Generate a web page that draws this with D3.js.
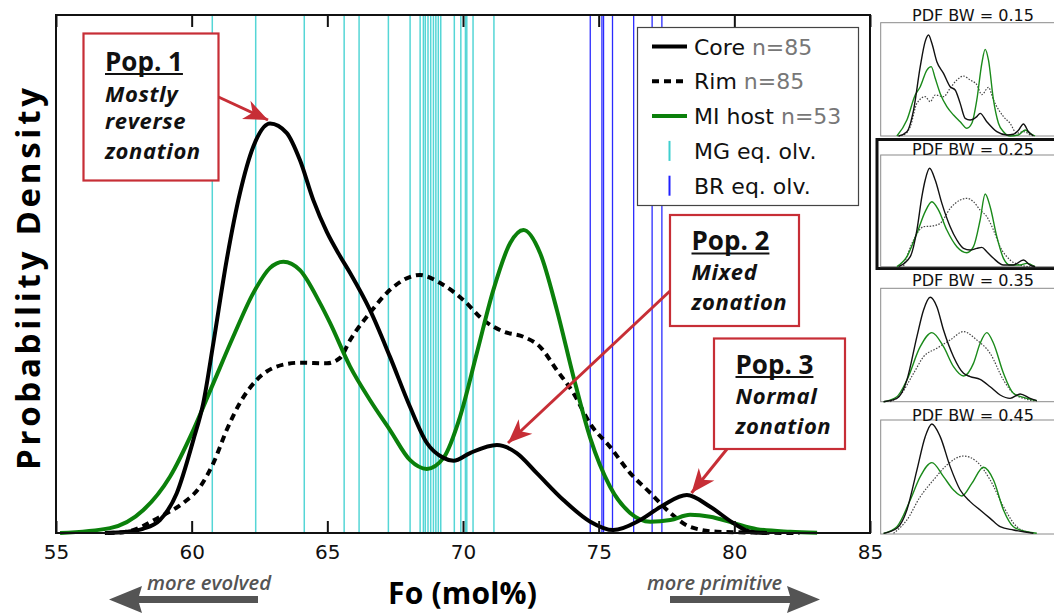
<!DOCTYPE html>
<html lang="en">
<head>
<meta charset="utf-8" />
<title>Fo probability density</title>
<style>
  * { margin: 0; padding: 0; }
  body { background: white; width: 1054px; height: 613px; overflow: hidden; }
  svg { display: block; }
  .tick text { font-family: "DejaVu Sans", sans-serif; font-size: 20px; fill: #111; }
  .tick line { stroke: #111; stroke-width: 2px; }
</style>
</head>
<body>
<script src="https://d3js.org/d3.v7.min.js"></script>
<svg id="chart" width="1054" height="613"></svg>
<script>

// ---- data ----
var foTicks = [55, 60, 65, 70, 75, 80, 85];

// equilibrium olivine compositions (Fo, mol%)
var mgEqOlv = [60.76, 62.36, 64.15, 65.62, 66.17, 67.25, 68.05, 68.42, 68.54, 68.61, 68.71,
               68.81, 68.91, 69.00, 69.09, 69.18, 69.68, 69.92, 70.09, 70.14, 70.37, 71.14];
var brEqOlv = [74.69, 75.12, 75.18, 75.51, 76.29, 76.97, 77.33];

// main KDE curves (BW = 0.25): [Fo, density]
var coreKde = [[56.8,0],[57.6,0.0004],[58.2,0.0013],[58.83,0.0040],[59.45,0.0123],[60.06,0.0287],[60.43,0.0402],
  [60.80,0.0587],[61.29,0.0843],[61.78,0.1050],[62.27,0.1193],[62.89,0.1265],[63.50,0.1236],[63.99,0.1152],
  [64.48,0.1029],[64.98,0.0930],[65.47,0.0855],[65.84,0.0803],[66.57,0.0689],[67.31,0.0544],[68.05,0.0389],
  [68.67,0.0278],[69.28,0.0232],[69.65,0.0223],[70.26,0.0247],[71.25,0.0272],[71.98,0.0247],[72.72,0.0185],
  [73.70,0.0102],[74.69,0.0035],[75.54,0.0009],[76.53,0.0040],[77.38,0.0086],[78.25,0.0117],[79.11,0.0081],
  [79.96,0.0031],[80.59,0.0004],[81.2,0]];
var rimKde = [[56.9,0],[57.60,0.0004],[58.83,0.0050],[59.69,0.0093],[60.31,0.0143],[60.80,0.0216],[61.29,0.0318],
  [61.78,0.0402],[62.40,0.0473],[63.13,0.0514],[63.99,0.0526],[64.98,0.0524],[65.47,0.0541],[65.84,0.0596],
  [66.57,0.0680],[67.31,0.0751],[68.42,0.0797],[69.16,0.0772],[70.01,0.0720],[70.75,0.0658],[71.49,0.0622],
  [72.23,0.0606],[72.84,0.0575],[73.46,0.0503],[74.07,0.0432],[74.69,0.0337],[75.42,0.0266],[76.16,0.0185],
  [76.90,0.0124],[77.64,0.0062],[78.37,0.0019],[79.36,0.0004],[81.0,0.0001],[82.4,0]];
var miKde = [[55.15,0],[56.99,0.0015],[58.22,0.0071],[59.20,0.0174],[60.06,0.0318],[60.80,0.0463],[61.53,0.0606],
  [62.27,0.0741],[62.89,0.0819],[63.38,0.0838],[63.99,0.0812],[64.73,0.0710],[65.10,0.0649],[65.84,0.0514],
  [66.57,0.0411],[67.31,0.0318],[68.05,0.0225],[68.67,0.0198],[69.28,0.0232],[69.89,0.0359],[70.51,0.0556],
  [71.12,0.0751],[71.74,0.0896],[72.23,0.0936],[72.84,0.0865],[73.46,0.0689],[74.07,0.0483],[74.69,0.0293],
  [75.42,0.0143],[76.16,0.0062],[76.90,0.0035],[77.64,0.0040],[78.37,0.0056],[79.11,0.0050],[79.96,0.0031],
  [80.83,0.0012],[82.06,0.0004],[83.05,0.0001]];

// side panels, relative density (0-1 of panel height)
var bwLabels = ["PDF BW = 0.15", "PDF BW = 0.25", "PDF BW = 0.35", "PDF BW = 0.45"];
var core15 = [[57.95,0],[59.32,0.038],[60.42,0.229],[61.52,0.612],[62.34,0.835],[62.89,0.891],[63.44,0.818],[64.26,0.656],
  [65.36,0.553],[66.46,0.435],[67.28,0.406],[68.11,0.288],[68.93,0.156],[69.75,0.141],[70.85,0.171],[71.40,0.200],
  [72.50,0.126],[74.15,0.038],[75.80,0.009],[76.89,0.015],[77.72,0.050],[78.54,0.106],[79.37,0.038],[80.19,0]];
var mi15 = [[57.67,0],[59.32,0.141],[60.69,0.362],[61.52,0.435],[62.62,0.582],[63.33,0.612],[63.99,0.509],[64.81,0.376],
  [65.91,0.259],[67.01,0.185],[68.11,0.126],[69.21,0.068],[70.03,0.112],[70.85,0.318],[71.68,0.641],[72.23,0.765],
  [72.77,0.671],[73.60,0.318],[74.42,0.112],[75.25,0.038],[76.34,0],[77.72,0.009],[78.82,0.053],[79.64,0.024],[80.46,0]];
var rim15 = [[57.9,0],[58.77,0.009],[59.87,0.082],[60.97,0.288],[62.34,0.347],[63.16,0.303],[63.99,0.362],[65.36,0.347],
  [66.46,0.421],[67.56,0.494],[68.66,0.529],[69.75,0.494],[70.85,0.453],[71.68,0.365],[72.77,0.429],[73.60,0.318],
  [75.25,0.171],[76.34,0.112],[77.44,0.024],[78.54,0.038],[79.64,0.009]];
var core25 = [[57.95,0],[59.87,0.090],[60.97,0.328],[61.79,0.627],[62.34,0.776],[63.05,0.881],[63.99,0.776],[65.09,0.567],
  [66.46,0.358],[67.56,0.239],[68.66,0.164],[69.75,0.149],[70.85,0.164],[71.68,0.173],[72.50,0.134],[73.60,0.075],
  [75.25,0.015],[76.89,0.015],[78.54,0.060],[79.64,0.015],[80.46,0]];
var mi25 = [[57.67,0],[59.32,0.090],[60.97,0.299],[62.34,0.493],[63.44,0.582],[64.54,0.507],[65.91,0.328],[67.56,0.179],
  [69.21,0.125],[70.30,0.179],[71.40,0.418],[72.23,0.651],[73.05,0.537],[74.15,0.269],[75.25,0.075],[76.34,0.015],
  [77.99,0.015],[79.09,0.030],[80.46,0]];
var rim25 = [[58.77,0.006],[60.42,0.239],[62.07,0.358],[63.44,0.364],[64.81,0.388],[66.46,0.522],[68.11,0.597],
  [69.21,0.612],[70.30,0.582],[71.40,0.507],[72.50,0.448],[73.60,0.328],[74.70,0.179],[76.34,0.060],[77.99,0.015],[79.64,0]];
var core35 = [[55.48,0],[57.67,0.029],[59.32,0.191],[60.97,0.574],[62.07,0.809],[63.16,0.921],[64.26,0.838],[65.36,0.632],
  [67.01,0.397],[68.66,0.250],[69.75,0.221],[71.40,0.197],[73.05,0.132],[74.70,0.059],[76.34,0.029],[77.99,0.068],
  [79.64,0.029],[80.74,0.009]];
var mi35 = [[55.48,0],[57.67,0.044],[59.32,0.191],[61.52,0.485],[63.44,0.609],[65.36,0.485],[67.01,0.309],[68.66,0.226],
  [70.30,0.338],[71.40,0.515],[72.50,0.609],[73.60,0.515],[75.25,0.250],[76.89,0.074],[78.54,0.038],[80.74,0.009]];
var rim35 = [[56.57,0],[58.22,0.059],[60.42,0.250],[62.07,0.397],[64.26,0.471],[66.46,0.544],[68.66,0.618],[70.85,0.544],
  [73.05,0.426],[75.25,0.191],[76.89,0.074],[79.09,0.021],[80.74,0.006]];
var core45 = [[55.48,0.006],[57.67,0.050],[59.32,0.211],[60.97,0.561],[62.34,0.854],[63.44,0.965],[64.81,0.854],
  [66.46,0.591],[68.11,0.386],[69.75,0.284],[71.40,0.211],[73.05,0.137],[74.70,0.064],[76.89,0.035],[78.54,0.020],[80.19,0.006]];
var mi45 = [[55.48,0.006],[57.67,0.064],[59.87,0.298],[61.52,0.503],[63.44,0.626],[65.36,0.503],[67.01,0.386],[68.38,0.333],
  [70.03,0.444],[71.95,0.585],[73.60,0.474],[75.25,0.211],[76.89,0.064],[79.09,0.020],[80.74,0.006]];
var rim45 = [[57.12,0.006],[59.32,0.123],[61.52,0.327],[63.71,0.474],[65.91,0.605],[68.66,0.684],[70.85,0.635],
  [73.05,0.474],[75.25,0.240],[77.44,0.064],[79.64,0.012]];

// ---- drawing ----
var svg = d3.select("#chart");
var red = "#c72e36", green = "#0b800b";

var x = d3.scaleLinear().domain([55, 85]).range([56, 870]);
var y = d3.scaleLinear().domain([0, 0.16]).range([533, 15]);

var line = d3.line()
    .x(function(d) { return x(d[0]); })
    .y(function(d) { return y(d[1]); })
    .curve(d3.curveMonotoneX);

// eq. olivine lines
svg.append("g").selectAll("line")
    .data(mgEqOlv)
  .enter().append("line")
    .attr("x1", function(d) { return x(d); }).attr("x2", function(d) { return x(d); })
    .attr("y1", 15).attr("y2", 533)
    .attr("stroke", "#55d6d6").attr("stroke-width", 1.5);
svg.append("g").selectAll("line")
    .data(brEqOlv)
  .enter().append("line")
    .attr("x1", function(d) { return x(d); }).attr("x2", function(d) { return x(d); })
    .attr("y1", 15).attr("y2", 533)
    .attr("stroke", "#2b2bff").attr("stroke-width", 1.3);

// curves
svg.append("path").datum(rimKde).attr("d", line)
    .attr("fill", "none").attr("stroke", "#000").attr("stroke-width", 4).attr("stroke-dasharray", "7,5");
svg.append("path").datum(miKde).attr("d", line)
    .attr("fill", "none").attr("stroke", green).attr("stroke-width", 4);
svg.append("path").datum(coreKde).attr("d", line)
    .attr("fill", "none").attr("stroke", "#000").attr("stroke-width", 4);

// axes, ticks inside
svg.append("g")
    .attr("transform", "translate(0,533)")
    .call(d3.axisBottom(x).tickValues(foTicks).tickSize(-12).tickPadding(12))
    .call(function(g) { g.select(".domain").remove(); });
svg.append("g")
    .attr("transform", "translate(0,15)")
    .call(d3.axisTop(x).tickValues(foTicks).tickSize(-12).tickFormat(""))
    .call(function(g) { g.select(".domain").remove(); });
svg.append("rect")
    .attr("x", 56).attr("y", 15).attr("width", 814).attr("height", 518)
    .attr("fill", "none").attr("stroke", "#111").attr("stroke-width", 2);

// legend
var leg = svg.append("g");
leg.append("rect")
    .attr("x", 637.5).attr("y", 27.5).attr("width", 221).attr("height", 178)
    .attr("fill", "white").attr("stroke", "#444").attr("stroke-width", 1.2);
var legItems = [
  {label: "Core", n: "n=85", kind: "solid", color: "#000"},
  {label: "Rim", n: "n=85", kind: "dash", color: "#000"},
  {label: "MI host", n: "n=53", kind: "solid", color: green},
  {label: "MG eq. olv.", n: "", kind: "tick", color: "#3fcfcf"},
  {label: "BR eq. olv.", n: "", kind: "tick", color: "#2020ff"}
];
legItems.forEach(function(d, i) {
  var cy = 46.5 + i * 34.8;
  if (d.kind === "tick") {
    leg.append("line").attr("x1", 669.5).attr("x2", 669.5).attr("y1", cy - 10).attr("y2", cy + 10)
      .attr("stroke", d.color).attr("stroke-width", 2);
  } else {
    leg.append("line").attr("x1", 652).attr("x2", 687).attr("y1", cy).attr("y2", cy)
      .attr("stroke", d.color).attr("stroke-width", 4)
      .attr("stroke-dasharray", d.kind === "dash" ? "7,5" : null);
  }
  var t = leg.append("text").attr("x", 694).attr("y", cy + 8)
    .style("font-family", "DejaVu Sans").style("font-size", "22px").attr("fill", "#111")
    .text(d.label + " ");
  if (d.n) t.append("tspan").attr("fill", "#777").text(d.n);
});

// axis titles
svg.append("text")
    .attr("x", 462.5).attr("y", 604)
    .attr("text-anchor", "middle")
    .attr("textLength", 149).attr("lengthAdjust", "spacing")
    .style("font-family", "Open Sans").style("font-weight", "bold").style("font-size", "30px")
    .text("Fo (mol%)");
svg.append("text")
    .attr("transform", "translate(28,279) rotate(-90)")
    .attr("text-anchor", "middle").attr("dy", "0.35em")
    .attr("textLength", 382).attr("lengthAdjust", "spacing")
    .style("font-family", "Open Sans").style("font-weight", "bold").style("font-size", "33px")
    .text("Probability Density");

// evolved / primitive arrows
var grey = "#545454";
svg.append("path")
    .attr("d", "M109,599.5 L142,586 L139,596 L258,596 L258,603 L139,603 L142,613 Z")
    .attr("fill", grey);
svg.append("path")
    .attr("d", "M820,599.5 L787,586 L790,596 L670,596 L670,603 L790,603 L787,613 Z")
    .attr("fill", grey);
svg.append("text").attr("x", 147).attr("y", 590)
    .attr("textLength", 124).attr("lengthAdjust", "spacingAndGlyphs")
    .style("font-family", "Open Sans").style("font-style", "italic").style("font-weight", 600)
    .style("font-size", "20px").attr("fill", grey).text("more evolved");
svg.append("text").attr("x", 647).attr("y", 590)
    .attr("textLength", 135).attr("lengthAdjust", "spacingAndGlyphs")
    .style("font-family", "Open Sans").style("font-style", "italic").style("font-weight", 600)
    .style("font-size", "20px").attr("fill", grey).text("more primitive");

// annotations
var defs = svg.append("defs");
defs.append("marker")
    .attr("id", "head").attr("markerUnits", "userSpaceOnUse")
    .attr("viewBox", "-26 -11 28 22").attr("refX", 0).attr("refY", 0)
    .attr("markerWidth", 28).attr("markerHeight", 22).attr("orient", "auto")
  .append("path").attr("d", "M0,0 L-24,-10 L-17,0 L-24,10 Z").attr("fill", red);

var notes = [
  {x: 83.5, y: 33.5, w: 135, h: 147, title: "Pop. 1", lines: ["Mostly", "reverse", "zonation"],
   ty: 70.5, ly: [101.5, 129, 159], arrow: [218.5, 97, 268, 120]},
  {x: 670, y: 215, w: 129, h: 111, title: "Pop. 2", lines: ["Mixed", "zonation"],
   ty: 250, ly: [279.5, 309.5], arrow: [670, 291, 508, 443]},
  {x: 714, y: 338.5, w: 131, h: 110.5, title: "Pop. 3", lines: ["Normal", "zonation"],
   ty: 373.5, ly: [403.5, 433.5], arrow: [727, 449, 691.5, 493]}
];
notes.forEach(function(d) {
  svg.append("line")
    .attr("x1", d.arrow[0]).attr("y1", d.arrow[1]).attr("x2", d.arrow[2]).attr("y2", d.arrow[3])
    .attr("stroke", red).attr("stroke-width", 3).attr("marker-end", "url(#head)");
  svg.append("rect")
    .attr("x", d.x).attr("y", d.y).attr("width", d.w).attr("height", d.h)
    .attr("fill", "white").attr("stroke", red).attr("stroke-width", 2.2);
  var tx = d.x + 21.5;
  var title = svg.append("text").attr("x", tx).attr("y", d.ty)
    .style("font-family", "Open Sans").style("font-weight", "bold").style("font-size", "26px")
    .attr("fill", "#111").text(d.title);
  var len = title.node().getComputedTextLength();
  svg.append("line").attr("x1", tx).attr("x2", tx + len).attr("y1", d.ty + 3.5).attr("y2", d.ty + 3.5)
    .attr("stroke", "#111").attr("stroke-width", 2);
  d.lines.forEach(function(s, i) {
    svg.append("text").attr("x", tx).attr("y", d.ly[i])
      .style("font-family", "Open Sans").style("font-weight", "bold").style("font-style", "italic")
      .style("font-size", "22px").style("letter-spacing", "0.6px").attr("fill", "#111").text(s);
  });
});

// side panels with other bandwidths
var panels = [
  {top: 22.7, bottom: 136, titleY: 21, series: [rim15, mi15, core15]},
  {top: 155, bottom: 266.7, titleY: 154.5, series: [rim25, mi25, core25]},
  {top: 288.3, bottom: 401.7, titleY: 286, series: [rim35, mi35, core35]},
  {top: 420, bottom: 534, titleY: 420.5, series: [rim45, mi45, core45]}
];
var xs = d3.scaleLinear().domain([55, 85]).range([880.7, 1062.6]);

// highlighted panel frame
svg.append("rect").attr("x", 877).attr("y", 139.5).attr("width", 200).attr("height", 129)
  .attr("fill", "white").attr("stroke", "#111").attr("stroke-width", 3);

panels.forEach(function(p, i) {
  var ys = d3.scaleLinear().domain([0, 1]).range([p.bottom, p.top]);
  var sl = d3.line()
    .x(function(d) { return xs(d[0]); })
    .y(function(d) { return ys(d[1]); })
    .curve(d3.curveMonotoneX);
  var g = svg.append("g");
  g.append("rect").attr("x", 880.7).attr("y", p.top).attr("width", 200).attr("height", p.bottom - p.top)
    .attr("fill", "white").attr("stroke", "#8a8a8a").attr("stroke-width", 1);
  g.append("path").datum(p.series[0]).attr("d", sl)
    .attr("fill", "none").attr("stroke", "#444").attr("stroke-width", 1.2).attr("stroke-dasharray", "1.5,1.5");
  g.append("path").datum(p.series[1]).attr("d", sl)
    .attr("fill", "none").attr("stroke", "#1a8a1a").attr("stroke-width", 1.4);
  g.append("path").datum(p.series[2]).attr("d", sl)
    .attr("fill", "none").attr("stroke", "#111").attr("stroke-width", 1.4);
  g.append("text").attr("x", 973).attr("y", p.titleY).attr("text-anchor", "middle")
    .attr("textLength", 122).attr("lengthAdjust", "spacingAndGlyphs")
    .style("font-family", "DejaVu Sans").style("font-size", "16px").attr("fill", "#111")
    .text(bwLabels[i]);
});

</script>
</body>
</html>
